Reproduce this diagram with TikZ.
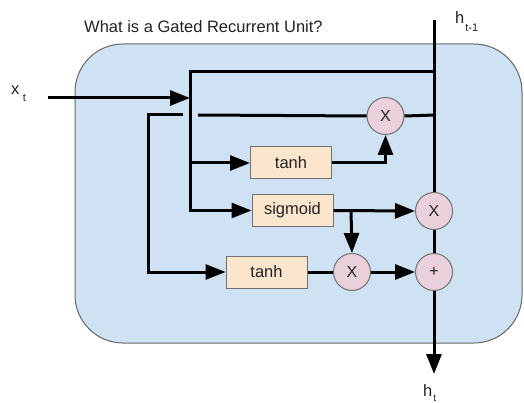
\documentclass[tikz,border=0pt]{standalone}
\usepackage{fontspec}
\setmainfont{Liberation Sans}
\usetikzlibrary{arrows.meta}
\definecolor{cellblue}{HTML}{CFE2F3}
\definecolor{cellline}{HTML}{666666}
\definecolor{boxfill}{HTML}{FCE5CD}
\definecolor{opfill}{HTML}{EAD1DC}
\definecolor{boxline}{HTML}{707070}
\definecolor{inkc}{HTML}{222222}
\begin{document}
\begin{tikzpicture}[x=1pt,y=-1pt,
  flow/.style={line width=3pt, black},
  arr/.style={flow, -{Triangle[length=20pt,width=15pt]}},
  opbox/.style={draw=boxline, line width=1pt, fill=boxfill, minimum width=81pt, minimum height=32pt, inner sep=0pt, text=inkc, font=\fontsize{16.5}{18}\selectfont},
  op/.style={circle, draw=boxline, line width=1pt, fill=opfill, minimum size=37pt, inner sep=0pt, text=inkc, font=\fontsize{16}{18}\selectfont},
  lbl/.style={inner sep=0pt, text=inkc, font=\fontsize{16.5}{18}\selectfont}]
\useasboundingbox (0,0) rectangle (524,403);
\node[draw=cellline, fill=cellblue, rounded corners=48pt, minimum width=447pt, minimum height=299pt, line width=1pt] (cell) at (298.5,193.5) {};
\node[lbl, anchor=base west] (title) at (84,33) {What is a Gated Recurrent Unit?};
\node[lbl, anchor=base west] (xt) at (11,95) {x\hspace{3.5pt}\raisebox{-7pt}{\fontsize{11}{12}\selectfont t}};
\node[lbl, anchor=base west] (hprev) at (455,24) {h\hspace{1pt}\raisebox{-8pt}{\fontsize{11}{12}\selectfont t-1}};
\node[lbl, anchor=base west] (hnext) at (423,396) {h\hspace{1pt}\raisebox{-5pt}{\fontsize{10}{11}\selectfont t}};

\node[opbox] (tanhA) at (291,163) {tanh};
\node[opbox] (sig) at (292.5,210.5) {sigmoid};
\node[opbox] (tanhB) at (266.5,272) {tanh};
\node[op] (mA) at (385.5,116) {X};
\node[op] (mB) at (434,211) {X};
\node[op] (mC) at (352,272) {X};
\node[op] (plus) at (434,272) {+};

\coordinate (htop) at (434,20);
\coordinate (hout) at (434,374);
\coordinate (xin) at (48,98);
\coordinate (jx) at (190,98);
\coordinate (jtop) at (190,72);
\coordinate (rtop) at (435.5,72);
\coordinate (jsig) at (190,210.5);
\coordinate (jtan) at (190,163);
\coordinate (lA) at (148,115);
\coordinate (lB) at (183,115);
\coordinate (rA) at (198,115);
\coordinate (rB) at (435.5,115);
\coordinate (lbot) at (148,272);
\coordinate (br) at (351,210.5);

\draw[flow] (htop) -- (mB.north);
\draw[arr] (rtop) -- (jtop) -- (jsig) -- (sig.west);
\draw[arr] (jtan) -- (tanhA.west);
\draw[arr] (xin) -- (jx);
\draw[arr] (lB) -- (lA) -- (lbot) -- (tanhB.west);
\draw[flow] (rA) -- (mA.west);
\draw[flow] (mA.east) -- (rB);
\draw[arr] (tanhA.east) -| (mA.south);
\draw[arr] (sig.east) -- (mB.west);
\draw[arr] (br) -- (mC.north);
\draw[flow] (tanhB.east) -- (mC.west);
\draw[arr] (mC.east) -- (plus.west);
\draw[flow] (mB.south) -- (plus.north);
\draw[arr] (plus.south) -- (hout);
\end{tikzpicture}
\end{document}
